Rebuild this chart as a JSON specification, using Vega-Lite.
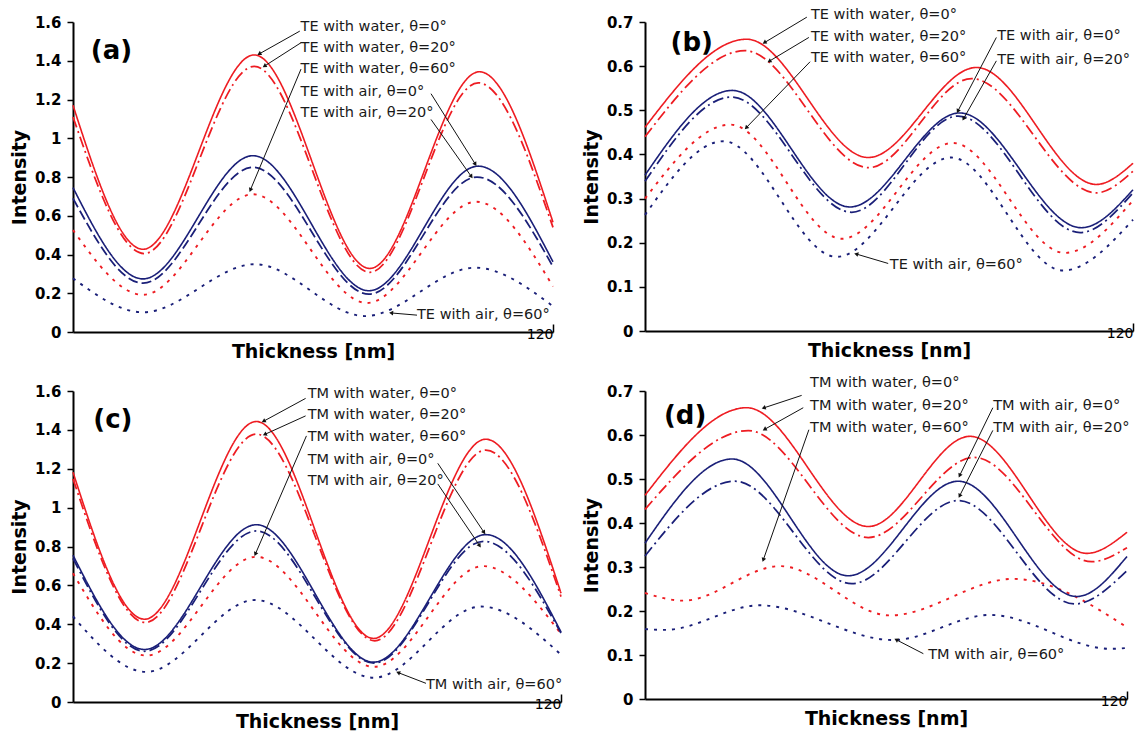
{
"$schema": "https://vega.github.io/schema/vega-lite/v6.json",
"padding": {"left": 10, "top": 7, "right": 0, "bottom": 0},
"spacing": {"row": 14, "column": 17},
"columns": 2,
"config": {
  "view": {"stroke": null},
  "font": "DejaVu Sans",
  "axis": {"domainColor": "#000", "domainWidth": 2, "tickColor": "#000", "tickWidth": 1.5, "labelColor": "#000", "titleColor": "#000", "labelFont": "DejaVu Sans", "titleFont": "DejaVu Sans", "grid": false, "labelOverlap": false},
  "axisX": {"labelFontWeight": "normal", "labelFontSize": 14, "tickSize": -8, "labelDx": 4, "labelPadding": 3, "titleFontSize": 19, "titleFontWeight": "bold", "titlePadding": 1, "labelOverlap": false},
  "axisY": {"labelFontSize": 15, "labelFontWeight": "bold", "tickSize": 6, "labelPadding": 6, "titleFontSize": 19, "titleFontWeight": "bold", "titlePadding": 5, "labelOverlap": false}
},
"datasets": {
  "curves": [
    {"p":"a","m":"water","a":"0°","t":0,"v":1.17},{"p":"a","m":"water","a":"0°","t":17.5,"v":0.427},{"p":"a","m":"water","a":"0°","t":45.3,"v":1.43},{"p":"a","m":"water","a":"0°","t":74.2,"v":0.328},{"p":"a","m":"water","a":"0°","t":101.6,"v":1.343},{"p":"a","m":"water","a":"0°","t":120,"v":0.566},
    {"p":"a","m":"water","a":"20°","t":0,"v":1.11},{"p":"a","m":"water","a":"20°","t":17.8,"v":0.405},{"p":"a","m":"water","a":"20°","t":45.3,"v":1.371},{"p":"a","m":"water","a":"20°","t":74.2,"v":0.308},{"p":"a","m":"water","a":"20°","t":101.3,"v":1.286},{"p":"a","m":"water","a":"20°","t":120,"v":0.54},
    {"p":"a","m":"water","a":"60°","t":0,"v":0.526},{"p":"a","m":"water","a":"60°","t":17.5,"v":0.192},{"p":"a","m":"water","a":"60°","t":45,"v":0.711},{"p":"a","m":"water","a":"60°","t":73.5,"v":0.15},{"p":"a","m":"water","a":"60°","t":100.8,"v":0.672},{"p":"a","m":"water","a":"60°","t":120,"v":0.235},
    {"p":"a","m":"air","a":"0°","t":0,"v":0.745},{"p":"a","m":"air","a":"0°","t":17.5,"v":0.274},{"p":"a","m":"air","a":"0°","t":45,"v":0.91},{"p":"a","m":"air","a":"0°","t":74,"v":0.213},{"p":"a","m":"air","a":"0°","t":101.3,"v":0.856},{"p":"a","m":"air","a":"0°","t":120,"v":0.362},
    {"p":"a","m":"air","a":"20°","t":0,"v":0.69},{"p":"a","m":"air","a":"20°","t":17.5,"v":0.252},{"p":"a","m":"air","a":"20°","t":45,"v":0.85},{"p":"a","m":"air","a":"20°","t":74,"v":0.195},{"p":"a","m":"air","a":"20°","t":101,"v":0.8},{"p":"a","m":"air","a":"20°","t":120,"v":0.337},
    {"p":"a","m":"air","a":"60°","t":0,"v":0.277},{"p":"a","m":"air","a":"60°","t":17.5,"v":0.102},{"p":"a","m":"air","a":"60°","t":45.5,"v":0.35},{"p":"a","m":"air","a":"60°","t":73,"v":0.082},{"p":"a","m":"air","a":"60°","t":100.5,"v":0.332},{"p":"a","m":"air","a":"60°","t":120,"v":0.133},

    {"p":"b","m":"water","a":"0°","t":0,"v":0.4615},{"p":"b","m":"water","a":"0°","t":25,"v":0.661},{"p":"b","m":"water","a":"0°","t":54.9,"v":0.393},{"p":"b","m":"water","a":"0°","t":81.5,"v":0.597},{"p":"b","m":"water","a":"0°","t":111,"v":0.332},{"p":"b","m":"water","a":"0°","t":120,"v":0.38},
    {"p":"b","m":"water","a":"20°","t":0,"v":0.44},{"p":"b","m":"water","a":"20°","t":24.6,"v":0.635},{"p":"b","m":"water","a":"20°","t":55,"v":0.37},{"p":"b","m":"water","a":"20°","t":80.3,"v":0.572},{"p":"b","m":"water","a":"20°","t":111,"v":0.313},{"p":"b","m":"water","a":"20°","t":120,"v":0.362},
    {"p":"b","m":"water","a":"60°","t":0,"v":0.3},{"p":"b","m":"water","a":"60°","t":21,"v":0.4675},{"p":"b","m":"water","a":"60°","t":48.4,"v":0.209},{"p":"b","m":"water","a":"60°","t":75.7,"v":0.426},{"p":"b","m":"water","a":"60°","t":103.2,"v":0.177},{"p":"b","m":"water","a":"60°","t":120,"v":0.296},
    {"p":"b","m":"air","a":"0°","t":0,"v":0.353},{"p":"b","m":"air","a":"0°","t":21.5,"v":0.545},{"p":"b","m":"air","a":"0°","t":50.4,"v":0.281},{"p":"b","m":"air","a":"0°","t":77.4,"v":0.494},{"p":"b","m":"air","a":"0°","t":107.3,"v":0.234},{"p":"b","m":"air","a":"0°","t":120,"v":0.32},
    {"p":"b","m":"air","a":"20°","t":0,"v":0.339},{"p":"b","m":"air","a":"20°","t":21.3,"v":0.53},{"p":"b","m":"air","a":"20°","t":50.8,"v":0.269},{"p":"b","m":"air","a":"20°","t":77,"v":0.487},{"p":"b","m":"air","a":"20°","t":107,"v":0.223},{"p":"b","m":"air","a":"20°","t":120,"v":0.313},
    {"p":"b","m":"air","a":"60°","t":0,"v":0.263},{"p":"b","m":"air","a":"60°","t":19.3,"v":0.43},{"p":"b","m":"air","a":"60°","t":47.1,"v":0.168},{"p":"b","m":"air","a":"60°","t":75.3,"v":0.393},{"p":"b","m":"air","a":"60°","t":102.8,"v":0.137},{"p":"b","m":"air","a":"60°","t":120,"v":0.252},

    {"p":"c","m":"water","a":"0°","t":0,"v":1.182},{"p":"c","m":"water","a":"0°","t":17.6,"v":0.426},{"p":"c","m":"water","a":"0°","t":45.1,"v":1.443},{"p":"c","m":"water","a":"0°","t":73.9,"v":0.327},{"p":"c","m":"water","a":"0°","t":101.5,"v":1.352},{"p":"c","m":"water","a":"0°","t":120,"v":0.56},
    {"p":"c","m":"water","a":"20°","t":0,"v":1.148},{"p":"c","m":"water","a":"20°","t":17.8,"v":0.409},{"p":"c","m":"water","a":"20°","t":45.1,"v":1.378},{"p":"c","m":"water","a":"20°","t":74.2,"v":0.315},{"p":"c","m":"water","a":"20°","t":101.5,"v":1.296},{"p":"c","m":"water","a":"20°","t":120,"v":0.542},
    {"p":"c","m":"water","a":"60°","t":0,"v":0.662},{"p":"c","m":"water","a":"60°","t":18,"v":0.239},{"p":"c","m":"water","a":"60°","t":45,"v":0.747},{"p":"c","m":"water","a":"60°","t":74,"v":0.181},{"p":"c","m":"water","a":"60°","t":100.8,"v":0.699},{"p":"c","m":"water","a":"60°","t":120,"v":0.351},
    {"p":"c","m":"air","a":"0°","t":0,"v":0.755},{"p":"c","m":"air","a":"0°","t":17.6,"v":0.27},{"p":"c","m":"air","a":"0°","t":45.1,"v":0.912},{"p":"c","m":"air","a":"0°","t":73.9,"v":0.205},{"p":"c","m":"air","a":"0°","t":101.5,"v":0.861},{"p":"c","m":"air","a":"0°","t":120,"v":0.36},
    {"p":"c","m":"air","a":"20°","t":0,"v":0.739},{"p":"c","m":"air","a":"20°","t":17.6,"v":0.261},{"p":"c","m":"air","a":"20°","t":45.1,"v":0.88},{"p":"c","m":"air","a":"20°","t":74,"v":0.2},{"p":"c","m":"air","a":"20°","t":101,"v":0.827},{"p":"c","m":"air","a":"20°","t":120,"v":0.355},
    {"p":"c","m":"air","a":"60°","t":0,"v":0.44},{"p":"c","m":"air","a":"60°","t":18,"v":0.155},{"p":"c","m":"air","a":"60°","t":44.8,"v":0.525},{"p":"c","m":"air","a":"60°","t":74,"v":0.125},{"p":"c","m":"air","a":"60°","t":100.3,"v":0.491},{"p":"c","m":"air","a":"60°","t":120,"v":0.244},

    {"p":"d","m":"water","a":"0°","t":0,"v":0.463},{"p":"d","m":"water","a":"0°","t":25.3,"v":0.662},{"p":"d","m":"water","a":"0°","t":55.6,"v":0.392},{"p":"d","m":"water","a":"0°","t":80.9,"v":0.597},{"p":"d","m":"water","a":"0°","t":110,"v":0.331},{"p":"d","m":"water","a":"0°","t":120,"v":0.379},
    {"p":"d","m":"water","a":"20°","t":0,"v":0.431},{"p":"d","m":"water","a":"20°","t":25.7,"v":0.61},{"p":"d","m":"water","a":"20°","t":55.6,"v":0.367},{"p":"d","m":"water","a":"20°","t":82,"v":0.549},{"p":"d","m":"water","a":"20°","t":111.2,"v":0.312},{"p":"d","m":"water","a":"20°","t":120,"v":0.344},
    {"p":"d","m":"water","a":"60°","t":0,"v":0.241},{"p":"d","m":"water","a":"60°","t":9.5,"v":0.2235},{"p":"d","m":"water","a":"60°","t":33.6,"v":0.302},{"p":"d","m":"water","a":"60°","t":61,"v":0.19},{"p":"d","m":"water","a":"60°","t":91.7,"v":0.273},{"p":"d","m":"water","a":"60°","t":120,"v":0.163},
    {"p":"d","m":"air","a":"0°","t":0,"v":0.354},{"p":"d","m":"air","a":"0°","t":21.7,"v":0.5455},{"p":"d","m":"air","a":"0°","t":50.6,"v":0.28},{"p":"d","m":"air","a":"0°","t":78,"v":0.495},{"p":"d","m":"air","a":"0°","t":107.5,"v":0.233},{"p":"d","m":"air","a":"0°","t":120,"v":0.324},
    {"p":"d","m":"air","a":"20°","t":0,"v":0.325},{"p":"d","m":"air","a":"20°","t":22.4,"v":0.495},{"p":"d","m":"air","a":"20°","t":51.5,"v":0.262},{"p":"d","m":"air","a":"20°","t":78,"v":0.451},{"p":"d","m":"air","a":"20°","t":107,"v":0.216},{"p":"d","m":"air","a":"20°","t":120,"v":0.292},
    {"p":"d","m":"air","a":"60°","t":0,"v":0.159},{"p":"d","m":"air","a":"60°","t":5,"v":0.157},{"p":"d","m":"air","a":"60°","t":28.6,"v":0.213},{"p":"d","m":"air","a":"60°","t":61.8,"v":0.134},{"p":"d","m":"air","a":"60°","t":85.9,"v":0.191},{"p":"d","m":"air","a":"60°","t":116,"v":0.114},{"p":"d","m":"air","a":"60°","t":120,"v":0.116}
  ],
  "notes": [
    {"p":"a","x":56.9,"y":1.573,"label":"TE with water, θ=0°"},{"p":"a","x":56.9,"y":1.468,"label":"TE with water, θ=20°"},{"p":"a","x":56.9,"y":1.357,"label":"TE with water, θ=60°"},{"p":"a","x":56.9,"y":1.238,"label":"TE with air, θ=0°"},{"p":"a","x":56.9,"y":1.131,"label":"TE with air, θ=20°"},{"p":"a","x":86.0,"y":0.087,"label":"TE with air, θ=60°"},
    {"p":"b","x":40.8,"y":0.7156,"label":"TE with water, θ=0°"},{"p":"b","x":40.8,"y":0.665,"label":"TE with water, θ=20°"},{"p":"b","x":40.8,"y":0.6185,"label":"TE with water, θ=60°"},{"p":"b","x":86.6,"y":0.6675,"label":"TE with air, θ=0°"},{"p":"b","x":86.6,"y":0.614,"label":"TE with air, θ=20°"},{"p":"b","x":60.2,"y":0.149,"label":"TE with air, θ=60°"},
    {"p":"c","x":57.7,"y":1.583,"label":"TM with water, θ=0°"},{"p":"c","x":57.7,"y":1.475,"label":"TM with water, θ=20°"},{"p":"c","x":57.7,"y":1.364,"label":"TM with water, θ=60°"},{"p":"c","x":57.7,"y":1.245,"label":"TM with air, θ=0°"},{"p":"c","x":57.7,"y":1.139,"label":"TM with air, θ=20°"},{"p":"c","x":86.8,"y":0.085,"label":"TM with air, θ=60°"},
    {"p":"d","x":41.1,"y":0.7177,"label":"TM with water, θ=0°"},{"p":"d","x":41.1,"y":0.667,"label":"TM with water, θ=20°"},{"p":"d","x":41.1,"y":0.616,"label":"TM with water, θ=60°"},{"p":"d","x":86.7,"y":0.666,"label":"TM with air, θ=0°"},{"p":"d","x":86.7,"y":0.616,"label":"TM with air, θ=20°"},{"p":"d","x":70.5,"y":0.0995,"label":"TM with air, θ=60°"}
  ],
  "arrows": [
    {"p":"a","x1":56.7,"y1":1.553,"x2":46.7,"y2":1.437},{"p":"a","x1":57.0,"y1":1.493,"x2":48.0,"y2":1.374},{"p":"a","x1":57.0,"y1":1.357,"x2":44.4,"y2":0.736},{"p":"a","x1":89.5,"y1":1.23,"x2":100.5,"y2":0.869},{"p":"a","x1":89.5,"y1":1.097,"x2":99.5,"y2":0.805},{"p":"a","x1":86,"y1":0.087,"x2":79.7,"y2":0.098},
    {"p":"b","x1":39.8,"y1":0.711,"x2":29.5,"y2":0.654},{"p":"b","x1":40.3,"y1":0.665,"x2":30.7,"y2":0.612},{"p":"b","x1":40.6,"y1":0.61,"x2":25.0,"y2":0.4615},{"p":"b","x1":86.4,"y1":0.665,"x2":77.0,"y2":0.4995},{"p":"b","x1":86.4,"y1":0.612,"x2":78.4,"y2":0.482},{"p":"b","x1":59.8,"y1":0.153,"x2":52.1,"y2":0.174},
    {"p":"c","x1":57.2,"y1":1.562,"x2":47.0,"y2":1.446},{"p":"c","x1":57.2,"y1":1.472,"x2":47.3,"y2":1.378},{"p":"c","x1":57.4,"y1":1.369,"x2":44.9,"y2":0.764},{"p":"c","x1":89.7,"y1":1.228,"x2":101,"y2":0.875},{"p":"c","x1":89.7,"y1":1.122,"x2":99.9,"y2":0.807},{"p":"c","x1":86.8,"y1":0.096,"x2":80.1,"y2":0.15},
    {"p":"d","x1":39.0,"y1":0.69,"x2":29.7,"y2":0.662},{"p":"d","x1":39.4,"y1":0.662,"x2":29.9,"y2":0.6135},{"p":"d","x1":40.8,"y1":0.612,"x2":29.5,"y2":0.3175},{"p":"d","x1":86.6,"y1":0.662,"x2":78.4,"y2":0.509},{"p":"d","x1":86.6,"y1":0.6105,"x2":78.4,"y2":0.463},{"p":"d","x1":69.3,"y1":0.103,"x2":62.7,"y2":0.134}
  ],
  "tags": [
    {"p":"a","x":9.6,"y":1.45,"label":"(a)"},{"p":"b","x":11.5,"y":0.652,"label":"(b)"},{"p":"c","x":9.8,"y":1.45,"label":"(c)"},{"p":"d","x":10,"y":0.643,"label":"(d)"}
  ]
},
"concat": [
  {
    "width": 480, "height": 310,
    "layer": [
      {"data": {"name": "curves"}, "transform": [{"filter": "datum.p === 'a'"}, {"calculate": "datum.m + datum.a", "as": "k"}],
       "mark": {"type": "line", "interpolate": "monotone"},
       "encoding": {
         "x": {"field": "t", "type": "quantitative", "scale": {"domain": [0, 120], "nice": false, "zero": false}, "axis": {"values": [120], "tickCount": 20, "title": "Thickness [nm]", "labelOverlap": false}},
         "y": {"field": "v", "type": "quantitative", "scale": {"domain": [0, 1.6], "nice": false}, "axis": {"values": [0, 0.2, 0.4, 0.6, 0.8, 1, 1.2, 1.4, 1.6], "tickCount": 20, "format": "~g", "title": "Intensity", "labelOverlap": false}},
         "color": {"field": "m", "type": "nominal", "scale": {"domain": ["water", "air"], "range": ["#ee1c22", "#1a1f78"]}, "legend": null},
         "strokeDash": {"field": "k", "type": "nominal", "scale": {"domain": ["water0°", "water20°", "water60°", "air0°", "air20°", "air60°"], "range": [[1, 0], [11, 4, 2, 4], [3, 6], [1, 0], [10, 4], [3, 6]]}, "legend": null},
         "strokeWidth": {"field": "a", "type": "nominal", "scale": {"domain": ["0°", "20°", "60°"], "range": [1.6, 1.9, 2.4]}, "legend": null}
       }},
      {"data": {"name": "arrows"}, "transform": [{"filter": "datum.p === 'a'"}],
       "mark": {"type": "rule", "color": "#111", "strokeWidth": 1},
       "encoding": {"x": {"field": "x1", "type": "quantitative"}, "y": {"field": "y1", "type": "quantitative"}, "x2": {"field": "x2"}, "y2": {"field": "y2"}}},
      {"data": {"name": "arrows"}, "transform": [{"filter": "datum.p === 'a'"}, {"calculate": "atan2((datum.x2 - datum.x1) * 480 / 120, (datum.y2 - datum.y1) * 310 / 1.6) * 180 / PI", "as": "ang"}],
       "mark": {"type": "point", "shape": "triangle", "filled": true, "size": 22, "color": "#111", "opacity": 1},
       "encoding": {"x": {"field": "x2", "type": "quantitative"}, "y": {"field": "y2", "type": "quantitative"}, "angle": {"field": "ang", "type": "quantitative", "scale": null}}},
      {"data": {"name": "notes"}, "transform": [{"filter": "datum.p === 'a'"}],
       "mark": {"type": "text", "align": "left", "baseline": "middle", "fontSize": 14.5, "color": "#1a1a1a"},
       "encoding": {"x": {"field": "x", "type": "quantitative"}, "y": {"field": "y", "type": "quantitative"}, "text": {"field": "label"}}},
      {"data": {"name": "tags"}, "transform": [{"filter": "datum.p === 'a'"}],
       "mark": {"type": "text", "align": "center", "baseline": "middle", "fontSize": 26, "fontWeight": "bold", "color": "#000"},
       "encoding": {"x": {"field": "x", "type": "quantitative"}, "y": {"field": "y", "type": "quantitative"}, "text": {"field": "label"}}}
    ]
  },
  {
    "width": 488, "height": 309,
    "layer": [
      {"data": {"name": "curves"}, "transform": [{"filter": "datum.p === 'b'"}],
       "mark": {"type": "line", "interpolate": "monotone"},
       "encoding": {
         "x": {"field": "t", "type": "quantitative", "scale": {"domain": [0, 120], "nice": false, "zero": false}, "axis": {"values": [120], "tickCount": 20, "title": "Thickness [nm]", "labelOverlap": false}},
         "y": {"field": "v", "type": "quantitative", "scale": {"domain": [0, 0.7], "nice": false}, "axis": {"values": [0, 0.1, 0.2, 0.3, 0.4, 0.5, 0.6, 0.7], "tickCount": 20, "format": "~g", "title": "Intensity", "labelOverlap": false}},
         "color": {"field": "m", "type": "nominal", "scale": {"domain": ["water", "air"], "range": ["#ee1c22", "#1a1f78"]}, "legend": null},
         "strokeDash": {"field": "a", "type": "nominal", "scale": {"domain": ["0°", "20°", "60°"], "range": [[1, 0], [11, 4, 2, 4], [3, 6]]}, "legend": null},
         "strokeWidth": {"field": "a", "type": "nominal", "scale": {"domain": ["0°", "20°", "60°"], "range": [1.6, 1.9, 2.4]}, "legend": null}
       }},
      {"data": {"name": "arrows"}, "transform": [{"filter": "datum.p === 'b'"}],
       "mark": {"type": "rule", "color": "#111", "strokeWidth": 1},
       "encoding": {"x": {"field": "x1", "type": "quantitative"}, "y": {"field": "y1", "type": "quantitative"}, "x2": {"field": "x2"}, "y2": {"field": "y2"}}},
      {"data": {"name": "arrows"}, "transform": [{"filter": "datum.p === 'b'"}, {"calculate": "atan2((datum.x2 - datum.x1) * 488 / 120, (datum.y2 - datum.y1) * 309 / 0.7) * 180 / PI", "as": "ang"}],
       "mark": {"type": "point", "shape": "triangle", "filled": true, "size": 22, "color": "#111", "opacity": 1},
       "encoding": {"x": {"field": "x2", "type": "quantitative"}, "y": {"field": "y2", "type": "quantitative"}, "angle": {"field": "ang", "type": "quantitative", "scale": null}}},
      {"data": {"name": "notes"}, "transform": [{"filter": "datum.p === 'b'"}],
       "mark": {"type": "text", "align": "left", "baseline": "middle", "fontSize": 14.5, "color": "#1a1a1a"},
       "encoding": {"x": {"field": "x", "type": "quantitative"}, "y": {"field": "y", "type": "quantitative"}, "text": {"field": "label"}}},
      {"data": {"name": "tags"}, "transform": [{"filter": "datum.p === 'b'"}],
       "mark": {"type": "text", "align": "center", "baseline": "middle", "fontSize": 26, "fontWeight": "bold", "color": "#000"},
       "encoding": {"x": {"field": "x", "type": "quantitative"}, "y": {"field": "y", "type": "quantitative"}, "text": {"field": "label"}}}
    ]
  },
  {
    "width": 488, "height": 311,
    "layer": [
      {"data": {"name": "curves"}, "transform": [{"filter": "datum.p === 'c'"}],
       "mark": {"type": "line", "interpolate": "monotone"},
       "encoding": {
         "x": {"field": "t", "type": "quantitative", "scale": {"domain": [0, 120], "nice": false, "zero": false}, "axis": {"values": [120], "tickCount": 20, "title": "Thickness [nm]", "labelOverlap": false}},
         "y": {"field": "v", "type": "quantitative", "scale": {"domain": [0, 1.6], "nice": false}, "axis": {"values": [0, 0.2, 0.4, 0.6, 0.8, 1, 1.2, 1.4, 1.6], "tickCount": 20, "format": "~g", "title": "Intensity", "labelOverlap": false}},
         "color": {"field": "m", "type": "nominal", "scale": {"domain": ["water", "air"], "range": ["#ee1c22", "#1a1f78"]}, "legend": null},
         "strokeDash": {"field": "a", "type": "nominal", "scale": {"domain": ["0°", "20°", "60°"], "range": [[1, 0], [11, 4, 2, 4], [3, 6]]}, "legend": null},
         "strokeWidth": {"field": "a", "type": "nominal", "scale": {"domain": ["0°", "20°", "60°"], "range": [1.6, 1.9, 2.4]}, "legend": null}
       }},
      {"data": {"name": "arrows"}, "transform": [{"filter": "datum.p === 'c'"}],
       "mark": {"type": "rule", "color": "#111", "strokeWidth": 1},
       "encoding": {"x": {"field": "x1", "type": "quantitative"}, "y": {"field": "y1", "type": "quantitative"}, "x2": {"field": "x2"}, "y2": {"field": "y2"}}},
      {"data": {"name": "arrows"}, "transform": [{"filter": "datum.p === 'c'"}, {"calculate": "atan2((datum.x2 - datum.x1) * 488 / 120, (datum.y2 - datum.y1) * 311 / 1.6) * 180 / PI", "as": "ang"}],
       "mark": {"type": "point", "shape": "triangle", "filled": true, "size": 22, "color": "#111", "opacity": 1},
       "encoding": {"x": {"field": "x2", "type": "quantitative"}, "y": {"field": "y2", "type": "quantitative"}, "angle": {"field": "ang", "type": "quantitative", "scale": null}}},
      {"data": {"name": "notes"}, "transform": [{"filter": "datum.p === 'c'"}],
       "mark": {"type": "text", "align": "left", "baseline": "middle", "fontSize": 14.5, "color": "#1a1a1a"},
       "encoding": {"x": {"field": "x", "type": "quantitative"}, "y": {"field": "y", "type": "quantitative"}, "text": {"field": "label"}}},
      {"data": {"name": "tags"}, "transform": [{"filter": "datum.p === 'c'"}],
       "mark": {"type": "text", "align": "center", "baseline": "middle", "fontSize": 26, "fontWeight": "bold", "color": "#000"},
       "encoding": {"x": {"field": "x", "type": "quantitative"}, "y": {"field": "y", "type": "quantitative"}, "text": {"field": "label"}}}
    ]
  },
  {
    "width": 482, "height": 308,
    "layer": [
      {"data": {"name": "curves"}, "transform": [{"filter": "datum.p === 'd'"}],
       "mark": {"type": "line", "interpolate": "monotone"},
       "encoding": {
         "x": {"field": "t", "type": "quantitative", "scale": {"domain": [0, 120], "nice": false, "zero": false}, "axis": {"values": [120], "tickCount": 20, "title": "Thickness [nm]", "labelOverlap": false}},
         "y": {"field": "v", "type": "quantitative", "scale": {"domain": [0, 0.7], "nice": false}, "axis": {"values": [0, 0.1, 0.2, 0.3, 0.4, 0.5, 0.6, 0.7], "tickCount": 20, "format": "~g", "title": "Intensity", "labelOverlap": false}},
         "color": {"field": "m", "type": "nominal", "scale": {"domain": ["water", "air"], "range": ["#ee1c22", "#1a1f78"]}, "legend": null},
         "strokeDash": {"field": "a", "type": "nominal", "scale": {"domain": ["0°", "20°", "60°"], "range": [[1, 0], [11, 4, 2, 4], [3, 6]]}, "legend": null},
         "strokeWidth": {"field": "a", "type": "nominal", "scale": {"domain": ["0°", "20°", "60°"], "range": [1.6, 1.9, 2.4]}, "legend": null}
       }},
      {"data": {"name": "arrows"}, "transform": [{"filter": "datum.p === 'd'"}],
       "mark": {"type": "rule", "color": "#111", "strokeWidth": 1},
       "encoding": {"x": {"field": "x1", "type": "quantitative"}, "y": {"field": "y1", "type": "quantitative"}, "x2": {"field": "x2"}, "y2": {"field": "y2"}}},
      {"data": {"name": "arrows"}, "transform": [{"filter": "datum.p === 'd'"}, {"calculate": "atan2((datum.x2 - datum.x1) * 482 / 120, (datum.y2 - datum.y1) * 308 / 0.7) * 180 / PI", "as": "ang"}],
       "mark": {"type": "point", "shape": "triangle", "filled": true, "size": 22, "color": "#111", "opacity": 1},
       "encoding": {"x": {"field": "x2", "type": "quantitative"}, "y": {"field": "y2", "type": "quantitative"}, "angle": {"field": "ang", "type": "quantitative", "scale": null}}},
      {"data": {"name": "notes"}, "transform": [{"filter": "datum.p === 'd'"}],
       "mark": {"type": "text", "align": "left", "baseline": "middle", "fontSize": 14.5, "color": "#1a1a1a"},
       "encoding": {"x": {"field": "x", "type": "quantitative"}, "y": {"field": "y", "type": "quantitative"}, "text": {"field": "label"}}},
      {"data": {"name": "tags"}, "transform": [{"filter": "datum.p === 'd'"}],
       "mark": {"type": "text", "align": "center", "baseline": "middle", "fontSize": 26, "fontWeight": "bold", "color": "#000"},
       "encoding": {"x": {"field": "x", "type": "quantitative"}, "y": {"field": "y", "type": "quantitative"}, "text": {"field": "label"}}}
    ]
  }
]
}
